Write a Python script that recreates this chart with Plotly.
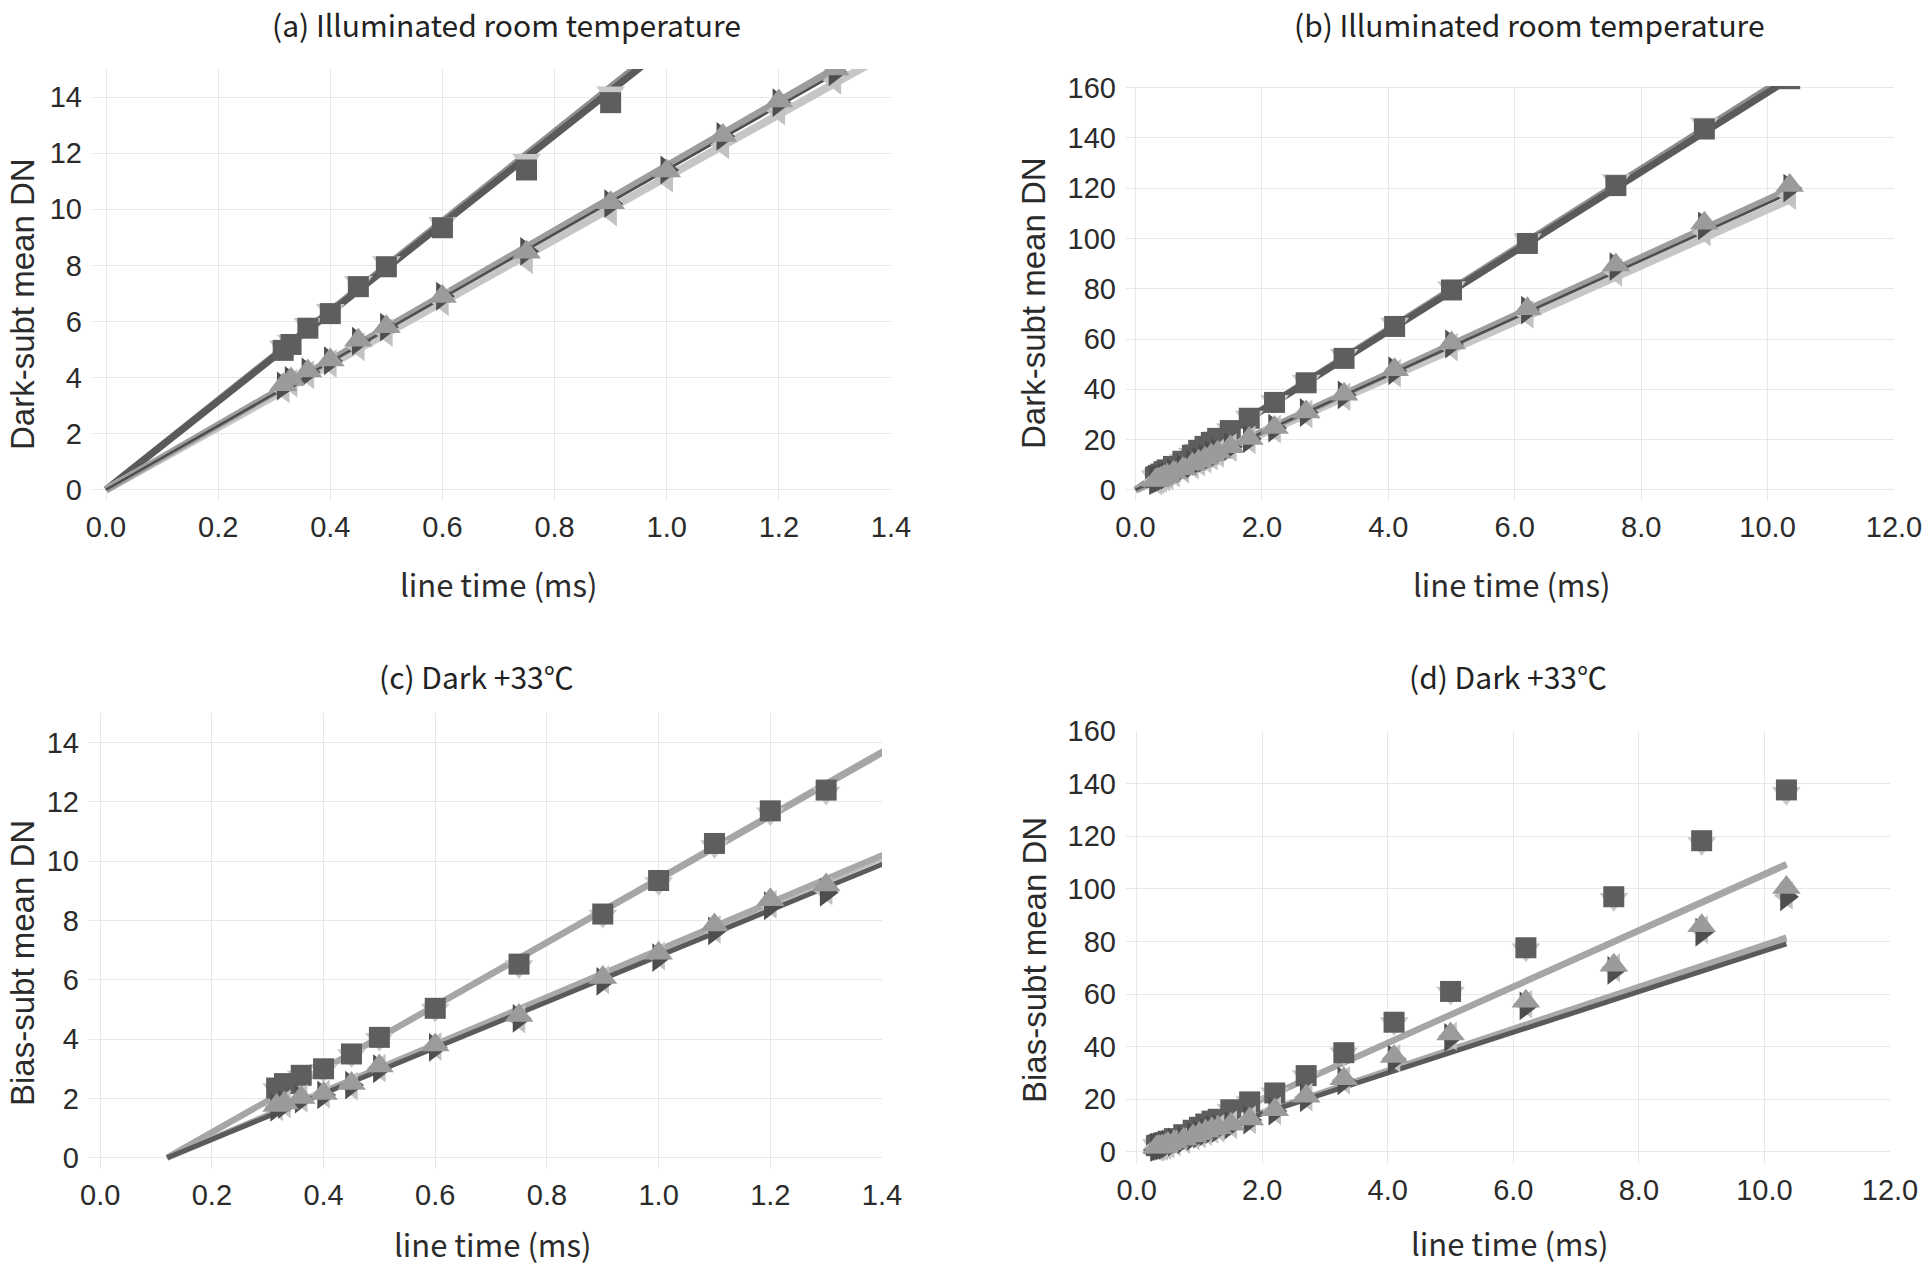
import plotly.graph_objects as go

W, H = 1927, 1269

# ---------------- data ----------------
line_time = [0.316, 0.33, 0.36, 0.40, 0.45, 0.50, 0.60, 0.75, 0.90, 1.0, 1.1, 1.2, 1.3,
             1.5, 1.8, 2.2, 2.7, 3.3, 4.1, 5.0, 6.2, 7.6, 9.0, 10.35]

# Illuminated, room temperature (dark-subtracted mean DN)
ill_square = [4.97, 5.18, 5.76, 6.28, 7.24, 7.95, 9.34, 11.4, 13.8, 15.7, 17.3, 18.9, 20.5,
              23.6, 28.5, 34.8, 42.6, 52.3, 65.0, 79.5, 98.0, 121.0, 143.5, 163.5]
ill_tri_down = [5.1, 5.3, 5.9, 6.4, 7.4, 8.1, 9.5, 11.75, 14.15, 15.9, 17.5, 19.1, 20.7,
                24.0, 29.0, 35.3, 43.3, 53.5, 66.0, 80.5, 99.5, 123.0, 145.5, 166.0]
ill_tri_right = [3.7, 3.9, 4.2, 4.6, 5.3, 5.8, 6.9, 8.5, 10.2, 11.4, 12.6, 13.8, 14.9,
                 17.1, 20.3, 24.6, 30.8, 37.8, 47.4, 58.0, 71.5, 88.8, 105.0, 120.0]
ill_tri_up = [3.74, 3.95, 4.23, 4.63, 5.33, 5.81, 6.89, 8.47, 10.23, 11.36, 12.63, 13.86, 15.0,
              17.2, 20.4, 24.8, 31.0, 38.0, 47.8, 58.4, 72.0, 89.4, 106.0, 121.0]
ill_tri_left = [3.6, 3.8, 4.1, 4.5, 5.1, 5.6, 6.7, 8.2, 9.9, 11.1, 12.3, 13.5, 14.6,
                16.8, 19.9, 24.2, 30.2, 37.0, 46.4, 56.8, 69.8, 86.5, 102.5, 117.0]

# Dark, +33 C (bias-subtracted mean DN)
dark_square = [2.35, 2.5, 2.78, 3.0, 3.5, 4.06, 5.04, 6.53, 8.22, 9.35, 10.6, 11.7, 12.4,
               16.0, 19.0, 22.4, 29.0, 37.7, 49.3, 61.0, 77.6, 97.0, 118.3, 137.6]
dark_tri_down = [2.3, 2.45, 2.72, 2.95, 3.45, 4.0, 4.98, 6.45, 8.15, 9.25, 10.5, 11.6, 12.3,
                 15.8, 18.8, 22.1, 28.7, 37.3, 48.8, 60.4, 76.8, 96.0, 117.2, 136.3]
dark_tri_right = [1.7, 1.8, 1.98, 2.12, 2.45, 3.0, 3.72, 4.7, 5.95, 6.75, 7.65, 8.5, 8.95,
                  10.2, 12.1, 15.5, 20.6, 27.0, 35.3, 43.5, 55.5, 69.0, 83.5, 97.0]
dark_tri_up = [1.76, 1.85, 2.03, 2.17, 2.5, 3.09, 3.8, 4.8, 6.08, 6.9, 7.85, 8.7, 9.2,
               10.5, 12.5, 16.0, 21.2, 27.8, 36.3, 44.8, 57.3, 71.0, 86.0, 100.5]
dark_tri_left = [1.72, 1.82, 2.0, 2.15, 2.42, 3.02, 3.75, 4.68, 6.0, 6.8, 7.7, 8.55, 9.0,
                 10.3, 12.2, 15.6, 20.8, 27.2, 35.6, 44.0, 56.2, 70.0, 84.5, 97.5]

# linear trend lines: [x-intercept, slope]
ill_fit = {"square": [0.0, 15.8], "tri_down": [0.0, 15.95], "tri_right": [0.0, 11.4],
           "tri_up": [0.0, 11.55], "tri_left": [0.0, 11.15]}
dark_fit = {"square": [0.12, 10.66], "tri_down": [0.12, 10.7], "tri_right": [0.12, 7.73],
            "tri_up": [0.12, 7.97], "tri_left": [0.12, 7.9]}
fit_end = 10.35

titles = ["(a) Illuminated room temperature", "(b) Illuminated room temperature",
          "(c) Dark +33℃", "(d) Dark +33℃"]
y_titles = ["Dark-subt mean DN", "Dark-subt mean DN", "Bias-subt mean DN", "Bias-subt mean DN"]
x_title = "line time (ms)"

# ---------------- styling ----------------
TITLE_FONT = "Noto Sans CJK JP"
TICK_FONT = "Liberation Sans"
styles = {
    "tri_down": dict(symbol="triangle-down", color="#c8c8c8", size=25),
    "square": dict(symbol="square", color="#5e5e5e", size=21),
    "tri_left": dict(symbol="triangle-left", color="#c2c2c2", size=25),
    "tri_right": dict(symbol="triangle-right", color="#4e4e4e", size=25),
    "tri_up": dict(symbol="triangle-up", color="#9b9b9b", size=25),
}
line_styles_ill = {
    "tri_down": ("#8e8e8e", 7), "square": ("#5a5a5a", 7),
    "tri_left": ("#c6c6c6", 8), "tri_up": ("#9d9d9d", 7), "tri_right": ("#4d4d4d", 2.5),
}
line_styles_dark = {
    "tri_down": ("#a8a8a8", 6), "square": ("#a6a6a6", 6),
    "tri_left": ("#bdbdbd", 6), "tri_up": ("#a8a8a8", 6), "tri_right": ("#5a5a5a", 5),
}

# panel geometry in pixels: (x0, x1, ytop, ybottom)
panels = [
    dict(px=(92, 891), py=(69, 501), xr=[-0.025, 1.4], yr=[-0.4, 15], xdt=0.2, ydt=2, fmt=".1f",
         data="ill", title_xy=(506, 24), yt_xy=(22, 304), xt_xy=(499, 583)),
    dict(px=(1126, 1894), py=(86, 501), xr=[-0.15, 12], yr=[-4.4, 160.6], xdt=2, ydt=20, fmt=".1f",
         data="ill", title_xy=(1529, 24), yt_xy=(1033, 303), xt_xy=(1512, 583)),
    dict(px=(89, 882), py=(713, 1169), xr=[-0.02, 1.4], yr=[-0.38, 15], xdt=0.2, ydt=2, fmt=".1f",
         data="dark", title_xy=(476, 676), yt_xy=(22, 963), xt_xy=(493, 1243)),
    dict(px=(1126, 1890), py=(731, 1164), xr=[-0.17, 12], yr=[-4.6, 160], xdt=2, ydt=20, fmt=".1f",
         data="dark", title_xy=(1508, 676), yt_xy=(1034, 960), xt_xy=(1510, 1242)),
]

series_sets = {
    "ill": {"square": ill_square, "tri_down": ill_tri_down, "tri_right": ill_tri_right,
            "tri_up": ill_tri_up, "tri_left": ill_tri_left},
    "dark": {"square": dark_square, "tri_down": dark_tri_down, "tri_right": dark_tri_right,
             "tri_up": dark_tri_up, "tri_left": dark_tri_left},
}
fits = {"ill": ill_fit, "dark": dark_fit}
lstyles = {"ill": line_styles_ill, "dark": line_styles_dark}

fig = go.Figure()
annotations = []
layout_axes = {}
line_order = ["tri_down", "square", "tri_left", "tri_up", "tri_right"]
marker_order = ["tri_down", "square", "tri_left", "tri_right", "tri_up"]

for i, p in enumerate(panels):
    n = i + 1
    xa = "x" if n == 1 else f"x{n}"
    ya = "y" if n == 1 else f"y{n}"
    data = series_sets[p["data"]]
    fit = fits[p["data"]]
    ls = lstyles[p["data"]]
    for key in line_order:
        x0, slope = fit[key]
        col, wid = ls[key]
        fig.add_trace(go.Scatter(
            x=[x0, fit_end], y=[0.0, slope * (fit_end - x0)], mode="lines",
            line=dict(color=col, width=wid), xaxis=xa, yaxis=ya, showlegend=False,
            hoverinfo="skip"))
    for key in marker_order:
        st = styles[key]
        fig.add_trace(go.Scatter(
            x=line_time, y=data[key], mode="markers",
            marker=dict(symbol=st["symbol"], color=st["color"], size=st["size"], line=dict(width=0)),
            xaxis=xa, yaxis=ya, showlegend=False, cliponaxis=True))

    dx = [p["px"][0] / W, p["px"][1] / W]
    dy = [1 - p["py"][1] / H, 1 - p["py"][0] / H]
    axis_common = dict(showgrid=True, gridcolor="#e8e8e8", gridwidth=1, zeroline=False,
                       showline=False, ticks="", automargin=False,
                       tickfont=dict(family=TICK_FONT, size=29, color="#2b2b2b"))
    layout_axes["xaxis" if n == 1 else f"xaxis{n}"] = dict(
        domain=dx, range=p["xr"], anchor=ya, tick0=0, dtick=p["xdt"], tickformat=p["fmt"],
        ticklabelstandoff=6, **axis_common)
    layout_axes["yaxis" if n == 1 else f"yaxis{n}"] = dict(
        domain=dy, range=p["yr"], anchor=xa, tick0=0, dtick=p["ydt"], ticklabelstandoff=9,
        **axis_common)

    tx, ty = p["title_xy"]
    annotations.append(dict(text=titles[i], x=tx / W, y=1 - ty / H, xref="paper", yref="paper",
                            showarrow=False, xanchor="center", yanchor="middle",
                            font=dict(family=TITLE_FONT, size=30, color="#222222")))
    yx, yy = p["yt_xy"]
    annotations.append(dict(text=y_titles[i], x=yx / W, y=1 - yy / H, xref="paper", yref="paper",
                            showarrow=False, xanchor="center", yanchor="middle", textangle=-90,
                            font=dict(family=TICK_FONT, size=33, color="#2b2b2b")))
    xx, xy = p["xt_xy"]
    annotations.append(dict(text=x_title, x=xx / W, y=1 - xy / H, xref="paper", yref="paper",
                            showarrow=False, xanchor="center", yanchor="middle",
                            font=dict(family=TITLE_FONT, size=31, color="#2b2b2b")))

fig.update_layout(template="none", width=W, height=H, margin=dict(l=0, r=0, t=0, b=0),
                  paper_bgcolor="white", plot_bgcolor="white",
                  annotations=annotations, **layout_axes)

fig.write_html("out.html", include_plotlyjs=True, config={"displayModeBar": False})
